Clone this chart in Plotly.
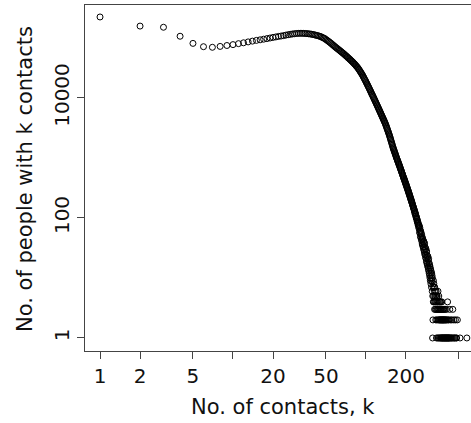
import plotly.graph_objects as go

# number of people (y) having k contacts (x)
# k = 1 .. 250, one value per k
counts_dense = [
    224000, 158000, 151000, 107000, 81300, 71600, 70000, 72400, 75000, 77600,
    80500, 83200, 86100, 88700, 91200, 93300, 95500, 97700, 100000, 102300,
    104200, 106200, 107900, 109600, 111700, 113500, 115100, 116700, 117800, 118900,
    119400, 119700, 119700, 119400, 118900, 118300, 117500, 116700, 115600, 114300,
    113000, 111400, 109900, 108400, 106700, 104700, 102300, 100000, 97700, 94400,
    91600, 88700, 85900, 83200, 80400, 77600, 75200, 72800, 70500, 68200,
    66400, 64600, 62700, 61000, 59300, 57700, 56100, 54600, 53100, 51600,
    50100, 48800, 47400, 46100, 44900, 43700, 42500, 41300, 40200, 39100,
    38000, 36900, 35800, 34800, 33700, 32700, 31600, 30500, 29400, 28300,
    27200, 26200, 25200, 24200, 23200, 22200, 21200, 20300, 19500, 18600,
    17800, 17100, 16300, 15600, 15000, 14300, 13700, 13100, 12600, 12000,
    11500, 11100, 10600, 10200, 9770, 9380, 9000, 8630, 8280, 7940,
    7640, 7350, 7060, 6790, 6530, 6280, 6040, 5810, 5590, 5370,
    5180, 4990, 4810, 4630, 4470, 4310, 4150, 4000, 3850, 3720,
    3560, 3400, 3260, 3120, 2990, 2860, 2740, 2620, 2510, 2400,
    2290, 2180, 2080, 1980, 1880, 1800, 1710, 1630, 1550, 1480,
    1422, 1368, 1315, 1265, 1216, 1169, 1125, 1081, 1040, 1000,
    966, 933, 902, 871, 841, 813, 785, 759, 733, 708,
    684, 661, 638, 617, 596, 575, 556, 537, 519, 501,
    485, 470, 455, 441, 427, 413, 400, 387, 375, 363,
    352, 340, 330, 319, 309, 299, 290, 281, 272, 263,
    255, 247, 239, 231, 224, 217, 210, 203, 197, 191,
    185, 179, 173, 167, 162, 157, 152, 147, 143, 138,
    131, 133, 121, 124, 115, 118, 106, 109, 100, 103,
    94, 96, 87, 91, 82, 85, 76, 80, 71, 75,
]
k_dense = list(range(1, 251))

# k = 251 .. 330, noisy part of the tail
counts_mid = [
    66, 74, 58, 69, 55, 63, 49, 60, 47, 56,
    44, 53, 41, 49, 37, 46, 35, 44, 33, 40,
    31, 41, 29, 36, 27, 38, 25, 33, 24, 30,
    22, 31, 21, 27, 19, 28, 18, 24, 17, 22,
    16, 23, 15, 20, 14, 21, 13, 18, 12, 17,
    11, 16, 10, 15, 9, 14, 12, 8, 13, 10,
    7, 12, 9, 11, 6, 10, 1, 5, 2, 7,
    4, 9, 5, 8, 4, 7, 6, 3, 7, 5,
]
k_mid = list(range(251, 331))

# sparse tail, only k with at least one person
k_tail = [331, 332, 333, 334, 335, 336, 337, 338, 339, 340, 341, 342, 343, 344, 345,
          346, 347, 348, 349, 350, 351, 352, 353, 354, 355, 356, 357, 358, 359, 360,
          361, 362, 363, 364, 365, 366, 367, 368, 369, 370, 371, 372, 373, 374, 375,
          376, 377, 378, 379, 380, 382, 383, 384, 385, 386, 388, 389, 390, 391, 393,
          394, 395, 397, 398, 400, 401, 403, 404, 406, 407, 409, 411, 412, 414, 416,
          418, 420, 422, 425, 427, 430, 433, 436, 440, 443, 447, 450, 454, 458, 462,
          466, 471, 476, 481, 487, 510, 574]
counts_tail = [4, 6, 3, 5, 2, 4, 6, 3, 1, 5, 4, 2, 5, 3, 4,
               1, 3, 6, 2, 4, 3, 1, 5, 2, 3, 4, 1, 2, 3, 4,
               2, 1, 3, 2, 4, 1, 3, 2, 1, 3, 2, 4, 1, 2, 3,
               1, 2, 1, 3, 2, 1, 2, 3, 1, 2, 1, 3, 2, 1, 2,
               1, 3, 1, 2, 1, 2, 1, 3, 1, 2, 1, 4, 1, 2, 1,
               1, 2, 1, 1, 3, 1, 2, 1, 1, 2, 1, 3, 1, 2, 1,
               1, 2, 1, 1, 2, 1, 1]

x_ticks = [1, 2, 5, 10, 20, 50, 100, 200, 500]
x_tick_text = ['1', '2', '5', '', '20', '50', '', '200', '']
y_ticks = [1, 100, 10000]
y_tick_text = ['1', '100', '10000']

k_all = k_dense + k_mid + k_tail
n_all = counts_dense + counts_mid + counts_tail

fig = go.Figure()
fig.add_trace(go.Scatter(
    x=k_all, y=n_all, mode='markers',
    marker=dict(symbol='circle-open', size=6, color='black', line=dict(width=1, color='black')),
    showlegend=False,
))

font = dict(family='DejaVu Sans', size=20, color='#111')
line_col = '#444'

fig.update_layout(
    width=471, height=423,
    margin=dict(l=85, r=0, t=5, b=72, autoexpand=False),
    plot_bgcolor='white', paper_bgcolor='white',
    font=font,
)
fig.update_xaxes(
    type='log', range=[-0.113, 2.79], automargin=False,
    tickvals=x_ticks, ticktext=x_tick_text,
    ticks='outside', ticklen=7, tickcolor=line_col, tickwidth=1,
    showline=True, linecolor=line_col, linewidth=1, mirror=True,
    showgrid=False, zeroline=False,
)
fig.update_yaxes(
    type='log', range=[-0.217, 5.55], automargin=False,
    tickvals=y_ticks, ticktext=y_tick_text, tickangle=-90,
    ticks='outside', ticklen=7, tickcolor=line_col, tickwidth=1,
    showline=True, linecolor=line_col, linewidth=1,
    showgrid=False, zeroline=False,
)

# axis titles placed as in the reference
fig.add_annotation(text='No. of contacts, k', xref='paper', yref='paper',
                   x=(283 - 85) / 386, y=-(407 - 351) / 346, showarrow=False,
                   xanchor='center', yanchor='middle', font=dict(size=21))
fig.add_annotation(text='No. of people with k contacts', xref='paper', yref='paper',
                   x=-(85 - 25) / 386, y=(351 - 179) / 346, showarrow=False, textangle=-90,
                   xanchor='center', yanchor='middle', font=dict(size=21))

# drop the page's default body margin so the figure fills the window
fig.write_html("out.html", config={'displayModeBar': False},
               post_script="document.body.style.margin='0';document.body.style.overflow='hidden';")
